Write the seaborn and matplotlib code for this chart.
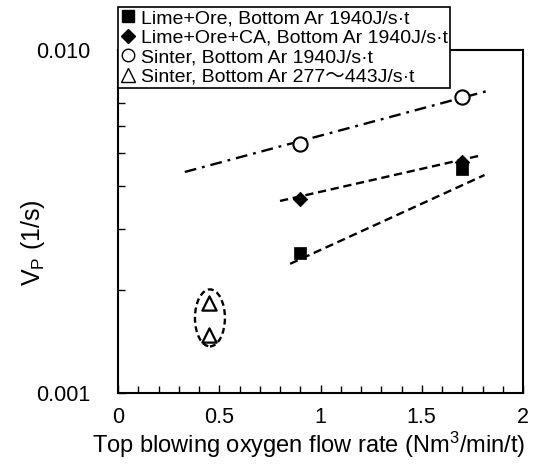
import numpy as np
import pandas as pd
import matplotlib
matplotlib.use("Agg")
import matplotlib.pyplot as plt
import seaborn as sns
from matplotlib.lines import Line2D
from matplotlib.patches import Ellipse
from matplotlib.ticker import FixedLocator, NullFormatter, MultipleLocator

# ---------------- data ----------------
labels = ["Lime+Ore, Bottom Ar 1940J/s\u00b7t",
          "Lime+Ore+CA, Bottom Ar 1940J/s\u00b7t",
          "Sinter, Bottom Ar 1940J/s\u00b7t",
          "Sinter, Bottom Ar 277\u301c443J/s\u00b7t"]

lime_x = [0.90, 1.70]
lime_y = [0.00256, 0.00450]
limeca_x = [0.90, 1.70]
limeca_y = [0.00368, 0.00470]
sinter_x = [0.90, 1.70]
sinter_y = [0.00532, 0.00730]
sinter_low_x = [0.45, 0.45]
sinter_low_y = [0.00183, 0.00148]

# fitted trend lines (end points)
lime_fit_x = [0.85, 1.81]
lime_fit_y = [0.00238, 0.00432]
limeca_fit_x = [0.80, 1.80]
limeca_fit_y = [0.00363, 0.00494]
sinter_fit_x = [0.33, 1.84]
sinter_fit_y = [0.00441, 0.00764]

xticks = [0, 0.5, 1, 1.5, 2]
xticklabels = ["0", "0.5", "1", "1.5", "2"]
yticks = [0.001, 0.01]
yticklabels = ["0.001", "0.010"]

# ---------------- style ----------------
sns.set_theme(style="ticks")
plt.rcParams['font.family'] = ['Liberation Sans', 'Noto Sans CJK JP', 'DejaVu Sans']
plt.rcParams['mathtext.fontset'] = 'custom'
plt.rcParams['mathtext.rm'] = 'Liberation Sans'
plt.rcParams['mathtext.it'] = 'Liberation Sans:italic'

fig = plt.figure(figsize=(5.34, 4.73), dpi=100)
ax = fig.add_axes([118/534, 1-393/473, 405/534, 343/473])

ax.set_yscale('log')
ax.set_xlim(0, 2)
ax.set_ylim(0.001, 0.01)

dash = (0, (3.5, 2))
# trend lines
sns.lineplot(x=lime_fit_x, y=lime_fit_y, ax=ax, color='black', lw=1.7,
             linestyle=dash, zorder=2)
sns.lineplot(x=limeca_fit_x, y=limeca_fit_y, ax=ax, color='black', lw=1.7,
             linestyle=dash, zorder=2)
sns.lineplot(x=sinter_fit_x, y=sinter_fit_y, ax=ax, color='black', lw=1.7,
             linestyle=(0, (5, 2.5, 1.2, 2.5)), zorder=2)

# points
sns.scatterplot(x=lime_x, y=lime_y, ax=ax, marker='s', s=85, color='black',
                edgecolor='black', linewidth=0.5, zorder=4)
sns.scatterplot(x=limeca_x, y=limeca_y, ax=ax, marker='D', s=55, color='black',
                edgecolor='black', linewidth=0.5, zorder=4)
sns.scatterplot(x=sinter_x, y=sinter_y, ax=ax, marker='o', s=105, facecolor='white',
                edgecolor='black', linewidth=1.5, zorder=4)
sns.scatterplot(x=sinter_low_x, y=sinter_low_y, ax=ax, marker='^', s=105, facecolor='white',
                edgecolor='black', linewidth=1.6, zorder=4)

# dashed ellipse around the low-Ar points
ell = Ellipse((0.227, 0.219), 0.074, 0.166, transform=ax.transAxes, fill=False,
              edgecolor='black', lw=1.7, linestyle=(0, (2.5, 1.5)), zorder=3)
ax.add_patch(ell)

# axes styling
for sp in ax.spines.values():
    sp.set_color('black')
    sp.set_linewidth(1.5)

ax.set_xticks(xticks)
ax.set_xticklabels(xticklabels)
ax.xaxis.set_minor_locator(MultipleLocator(0.1))
ax.yaxis.set_major_locator(FixedLocator(yticks))
ax.set_yticklabels(yticklabels)
ax.yaxis.set_minor_locator(FixedLocator([k*0.001 for k in range(2, 10)]))
ax.yaxis.set_minor_formatter(NullFormatter())
ax.tick_params(axis='both', which='both', direction='in', color='black', width=1.0)
ax.tick_params(axis='x', which='major', length=6, pad=10, labelsize=15.5)
ax.tick_params(axis='x', which='minor', length=5)
ax.tick_params(axis='y', which='major', length=6, pad=20, labelsize=15.5)
ax.tick_params(axis='y', which='minor', length=5)
for t in ax.get_xticklabels() + ax.get_yticklabels():
    t.set_color('black')

ax.set_xlabel("Top blowing oxygen flow rate (Nm$^3$/min/t)", fontsize=17, color='black')
ax.xaxis.set_label_coords((309-118)/405, -(445-393)/343)
ax.xaxis.label.set_va('center')
ax.set_ylabel("V$_{\\mathrm{P}}$ (1/s)", fontsize=18, color='black')
ax.yaxis.set_label_coords(-(118-33)/405, (393-243)/343)
ax.yaxis.label.set_va('center')

# legend
handles = [
    Line2D([], [], marker='s', color='black', linestyle='none', markersize=9),
    Line2D([], [], marker='D', color='black', linestyle='none', markersize=7),
    Line2D([], [], marker='o', markerfacecolor='white', markeredgecolor='black',
           linestyle='none', markersize=9, markeredgewidth=1.0),
    Line2D([], [], marker='^', markerfacecolor='white', markeredgecolor='black',
           linestyle='none', markersize=10, markeredgewidth=1.0),
]
leg = ax.legend(handles, labels, loc='upper left', bbox_to_anchor=(0, 1.124),
                borderaxespad=0, fancybox=False, framealpha=1, edgecolor='black',
                fontsize=14, handlelength=0.8, handletextpad=0.3,
                labelspacing=0.1, borderpad=0.1)
leg.get_frame().set_linewidth(1.2)
leg.set_zorder(10)
for t in leg.get_texts():
    t.set_color('black')

fig.savefig("out.png", dpi=100)
